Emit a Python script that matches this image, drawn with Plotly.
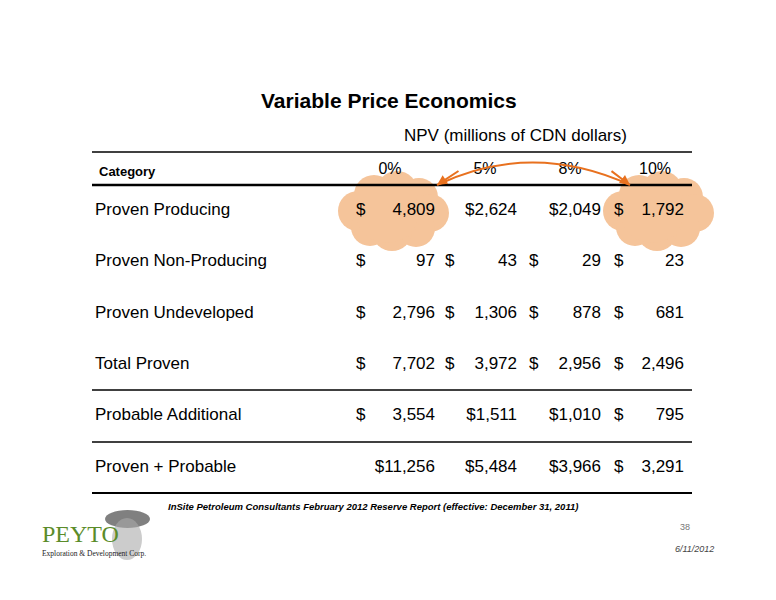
import plotly.graph_objects as go

categories = ["Proven Producing", "Proven Non-Producing", "Proven Undeveloped",
              "Total Proven", "Probable Additional", "Proven + Probable"]
rates = ["0%", "5%", "8%", "10%"]
npv_0 = [4809, 97, 2796, 7702, 3554, 11256]
npv_5 = [2624, 43, 1306, 3972, 1511, 5484]
npv_8 = [2049, 29, 878, 2956, 1010, 3966]
npv_10 = [1792, 23, 681, 2496, 795, 3291]
# cells where the $ sign is attached to the number rather than in its own column
tight = {(5, 0), (5, 1), (5, 2), (4, 1), (4, 2), (0, 1), (0, 2)}

cols = [npv_0, npv_5, npv_8, npv_10]
row_y = [211, 262, 314, 365, 416, 468]
dollar_x = [356, 445, 529, 614]
num_x = [435, 517, 601, 684]
head_x = [390, 485, 570, 655]

fig = go.Figure()
FONT = "Liberation Sans, Arial, sans-serif"
shapes = []
cloud = "#F5C49A"
for cx in [392, 657]:
    cy = 211
    for dx, dy, r in [(-34, 0, 20), (-18, -16, 20), (5, -19, 21), (27, -14, 19), (38, 2, 19),
                      (24, 17, 19), (0, 20, 20), (-22, 16, 19), (0, 0, 30), (-5, 0, 32)]:
        shapes.append(dict(type="circle", xref="x", yref="y", x0=cx+dx-r, x1=cx+dx+r,
                           y0=cy+dy-r, y1=cy+dy+r, fillcolor=cloud, line=dict(width=0), layer="below"))
for y, w in [(152, 1.5), (185, 2.5), (390, 1.5), (442, 1.5), (493, 2)]:
    shapes.append(dict(type="line", xref="x", yref="y", x0=92, x1=692, y0=y, y1=y,
                       line=dict(color="black", width=w)))
shapes.append(dict(type="path", xref="x", yref="y", path="M 630 185 Q 532 140 437 185",
                   line=dict(color="#E8711F", width=2)))
# portrait placeholder
shapes.append(dict(type="circle", xref="x", yref="y", x0=105, x1=150, y0=510, y1=528,
                   fillcolor="#555", line=dict(width=0), opacity=0.75, layer="below"))
shapes.append(dict(type="circle", xref="x", yref="y", x0=112, x1=142, y0=518, y1=560,
                   fillcolor="#aaa", line=dict(width=0), opacity=0.6, layer="below"))

fig.add_trace(go.Scatter(x=[95]*6, y=row_y, text=categories, mode="text", textposition="middle right",
                         textfont=dict(size=17, color="black", family=FONT)))
fig.add_trace(go.Scatter(x=head_x, y=[170]*4, text=rates, mode="text",
                         textfont=dict(size=16, color="black", family=FONT)))
for j, col in enumerate(cols):
    dx, dy, dt, nx, ny, nt = [], [], [], [], [], []
    for i, v in enumerate(col):
        s = f"{v:,}"
        if (i, j) in tight:
            nt.append("$" + s)
        else:
            nt.append(s)
            dx.append(dollar_x[j]); dy.append(row_y[i]); dt.append("$")
        nx.append(num_x[j]); ny.append(row_y[i])
    fig.add_trace(go.Scatter(x=dx, y=dy, text=dt, mode="text", textposition="middle right",
                             textfont=dict(size=17, color="black", family=FONT)))
    fig.add_trace(go.Scatter(x=nx, y=ny, text=nt, mode="text", textposition="middle left",
                             textfont=dict(size=17, color="black", family=FONT)))

ann = [
    dict(x=389, y=100, text="<b>Variable Price Economics</b>", font=dict(size=21, family=FONT)),
    dict(x=515, y=135, text="NPV (millions of CDN dollars)", font=dict(size=17, family=FONT)),
    dict(x=97, y=171, text="<b>Category</b>", xanchor="left", font=dict(size=13, family=FONT)),
    dict(x=373, y=506, text="<b><i>InSite Petroleum Consultants February 2012 Reserve Report (effective: December 31, 2011)</i></b>",
         font=dict(size=9.5, family="Liberation Sans Narrow, Arial Narrow, sans-serif")),
    dict(x=692, y=527, text="38", xanchor="right", font=dict(size=9, color="#777", family=FONT)),
    dict(x=716, y=549, text="<i>6/11/2012</i>", xanchor="right", font=dict(size=9, color="#444", family=FONT)),
    dict(x=40, y=534, text="PEYTO", xanchor="left", font=dict(size=24, color="#5B8C2A", family="Liberation Serif, serif")),
    dict(x=40, y=553, text="Exploration & Development Corp.", xanchor="left", font=dict(size=7.5, color="#222", family="Liberation Serif, serif")),
    dict(x=437, y=185, ax=460, ay=170, axref="x", ayref="y", text="", showarrow=True,
         arrowhead=2, arrowcolor="#E8711F", arrowwidth=2, font=dict()),
    dict(x=630, y=185, ax=610, ay=170, axref="x", ayref="y", text="", showarrow=True,
         arrowhead=2, arrowcolor="#E8711F", arrowwidth=2, font=dict()),
]
for a in ann:
    a.setdefault("xref", "x"); a.setdefault("yref", "y"); a.setdefault("showarrow", False)
    a["font"].setdefault("color", "black")

fig.update_layout(width=776, height=600, margin=dict(l=0, r=0, t=0, b=0),
                  paper_bgcolor="white", plot_bgcolor="white", showlegend=False,
                  shapes=shapes, annotations=ann,
                  xaxis=dict(range=[8, 784], visible=False, fixedrange=True),
                  yaxis=dict(range=[608, 8], visible=False, fixedrange=True))
fig.write_html("out.html")
